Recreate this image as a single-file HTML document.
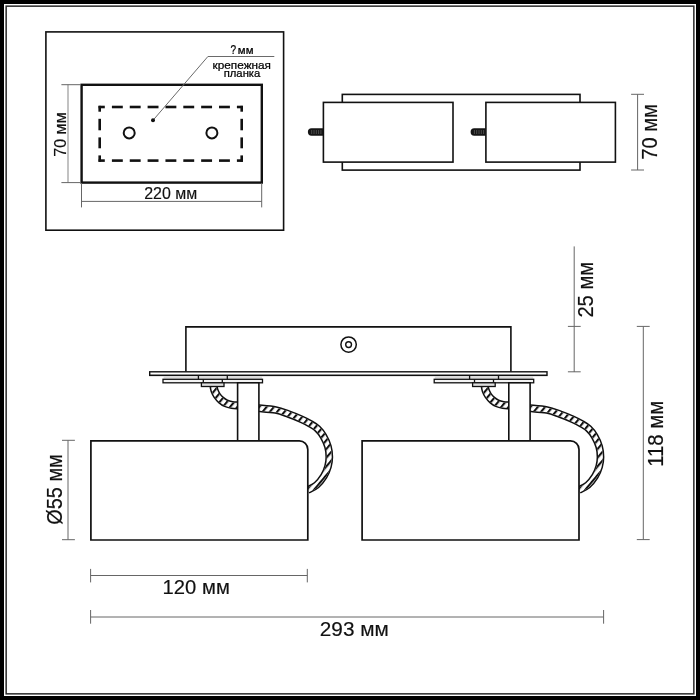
<!DOCTYPE html>
<html lang="ru">
<head>
<meta charset="utf-8">
<title>Схема светильника</title>
<style>
html,body{margin:0;padding:0;background:#fff;}
body{width:700px;height:700px;overflow:hidden;}
svg{display:block;filter:grayscale(1);font-family:'Liberation Sans', 'DejaVu Sans', sans-serif;}
</style>
</head>
<body>
<svg width="700" height="700" viewBox="0 0 700 700">
<rect x="0" y="0" width="700" height="700" fill="#fff"/>
<rect x="2" y="2" width="696" height="696" fill="none" stroke="#000" stroke-width="4"/>
<rect x="6.15" y="6.15" width="687.7" height="687.7" fill="none" stroke="#2a2a2a" stroke-width="1.5"/>
<rect x="45.90" y="31.90" width="237.70" height="198.30" fill="none" stroke="#111" stroke-width="1.6" />
<rect x="81.60" y="84.80" width="180.20" height="97.80" fill="none" stroke="#111" stroke-width="2.4" />
<line x1="98.55" y1="107.00" x2="104.80" y2="107.00" stroke="#111" stroke-width="2.6" />
<line x1="236.90" y1="107.00" x2="242.85" y2="107.00" stroke="#111" stroke-width="2.6" />
<line x1="111.90" y1="107.00" x2="122.80" y2="107.00" stroke="#111" stroke-width="2.6" />
<line x1="129.75" y1="107.00" x2="140.65" y2="107.00" stroke="#111" stroke-width="2.6" />
<line x1="147.60" y1="107.00" x2="158.50" y2="107.00" stroke="#111" stroke-width="2.6" />
<line x1="165.45" y1="107.00" x2="176.35" y2="107.00" stroke="#111" stroke-width="2.6" />
<line x1="183.30" y1="107.00" x2="194.20" y2="107.00" stroke="#111" stroke-width="2.6" />
<line x1="201.15" y1="107.00" x2="212.05" y2="107.00" stroke="#111" stroke-width="2.6" />
<line x1="219.00" y1="107.00" x2="229.90" y2="107.00" stroke="#111" stroke-width="2.6" />
<line x1="98.55" y1="160.60" x2="104.80" y2="160.60" stroke="#111" stroke-width="2.6" />
<line x1="236.90" y1="160.60" x2="242.85" y2="160.60" stroke="#111" stroke-width="2.6" />
<line x1="111.90" y1="160.60" x2="122.80" y2="160.60" stroke="#111" stroke-width="2.6" />
<line x1="129.75" y1="160.60" x2="140.65" y2="160.60" stroke="#111" stroke-width="2.6" />
<line x1="147.60" y1="160.60" x2="158.50" y2="160.60" stroke="#111" stroke-width="2.6" />
<line x1="165.45" y1="160.60" x2="176.35" y2="160.60" stroke="#111" stroke-width="2.6" />
<line x1="183.30" y1="160.60" x2="194.20" y2="160.60" stroke="#111" stroke-width="2.6" />
<line x1="201.15" y1="160.60" x2="212.05" y2="160.60" stroke="#111" stroke-width="2.6" />
<line x1="219.00" y1="160.60" x2="229.90" y2="160.60" stroke="#111" stroke-width="2.6" />
<line x1="99.70" y1="105.85" x2="99.70" y2="111.70" stroke="#111" stroke-width="2.6" />
<line x1="99.70" y1="155.40" x2="99.70" y2="161.75" stroke="#111" stroke-width="2.6" />
<line x1="99.70" y1="118.80" x2="99.70" y2="130.30" stroke="#111" stroke-width="2.6" />
<line x1="99.70" y1="137.40" x2="99.70" y2="148.30" stroke="#111" stroke-width="2.6" />
<line x1="241.70" y1="105.85" x2="241.70" y2="111.70" stroke="#111" stroke-width="2.6" />
<line x1="241.70" y1="155.40" x2="241.70" y2="161.75" stroke="#111" stroke-width="2.6" />
<line x1="241.70" y1="118.80" x2="241.70" y2="130.30" stroke="#111" stroke-width="2.6" />
<line x1="241.70" y1="137.40" x2="241.70" y2="148.30" stroke="#111" stroke-width="2.6" />
<circle cx="129.2" cy="132.9" r="5.5" fill="none" stroke="#111" stroke-width="2.0"/>
<circle cx="211.9" cy="132.9" r="5.5" fill="none" stroke="#111" stroke-width="2.0"/>
<polyline points="153,120.3 207.9,56.5 274.3,56.5" fill="none" stroke="#6a6a6a" stroke-width="1"/>
<circle cx="153" cy="120.3" r="2" fill="#111"/>
<line x1="68.00" y1="84.80" x2="68.00" y2="182.60" stroke="#999" stroke-width="1.2" />
<line x1="61.40" y1="84.70" x2="81.00" y2="84.70" stroke="#666" stroke-width="1" />
<line x1="61.40" y1="182.60" x2="81.00" y2="182.60" stroke="#666" stroke-width="1" />
<line x1="81.50" y1="183.00" x2="81.50" y2="207.40" stroke="#666" stroke-width="1" />
<line x1="261.70" y1="183.00" x2="261.70" y2="207.40" stroke="#666" stroke-width="1" />
<line x1="81.50" y1="201.40" x2="261.70" y2="201.40" stroke="#666" stroke-width="1" />
<text transform="translate(65.60 156.70) rotate(-90)" font-size="17.4" textLength="44.40" lengthAdjust="spacingAndGlyphs" fill="#111" stroke="#111" stroke-width="0.16">70 мм</text>
<text transform="translate(144.20 198.90)" font-size="16.4" textLength="53.00" lengthAdjust="spacingAndGlyphs" fill="#111" stroke="#111" stroke-width="0.16">220 мм</text>
<text transform="translate(230.6 53.7)" font-size="6" fill="#000" stroke="#000" stroke-width="0.24"><tspan font-size="12.2" textLength="5.6" lengthAdjust="spacingAndGlyphs">?</tspan> <tspan font-size="10.4" textLength="15.6" lengthAdjust="spacingAndGlyphs">мм</tspan></text>
<text transform="translate(212.60 69.00)" font-size="11.6" textLength="58.40" lengthAdjust="spacingAndGlyphs" fill="#000" stroke="#000" stroke-width="0.24">крепежная</text>
<text transform="translate(223.70 77.00)" font-size="11.6" textLength="36.60" lengthAdjust="spacingAndGlyphs" fill="#000" stroke="#000" stroke-width="0.24">планка</text>
<rect x="342.30" y="94.40" width="237.70" height="75.70" fill="none" stroke="#111" stroke-width="1.6" />
<rect x="323.40" y="102.40" width="129.60" height="59.70" fill="#fff" stroke="#111" stroke-width="1.6" />
<rect x="485.90" y="102.40" width="129.50" height="59.70" fill="#fff" stroke="#111" stroke-width="1.6" />
<path d="M323.10 128.3 H311.50 a3.6 3.7 0 0 0 0 7.4 H323.10 Z" fill="#151515"/>
<line x1="311.70" y1="130.00" x2="311.70" y2="134.00" stroke="#5a5a5a" stroke-width="0.8" />
<line x1="314.00" y1="130.00" x2="314.00" y2="134.00" stroke="#5a5a5a" stroke-width="0.8" />
<line x1="316.30" y1="130.00" x2="316.30" y2="134.00" stroke="#5a5a5a" stroke-width="0.8" />
<line x1="318.60" y1="130.00" x2="318.60" y2="134.00" stroke="#5a5a5a" stroke-width="0.8" />
<line x1="320.90" y1="130.00" x2="320.90" y2="134.00" stroke="#5a5a5a" stroke-width="0.8" />
<path d="M485.80 128.3 H474.20 a3.6 3.7 0 0 0 0 7.4 H485.80 Z" fill="#151515"/>
<line x1="474.40" y1="130.00" x2="474.40" y2="134.00" stroke="#5a5a5a" stroke-width="0.8" />
<line x1="476.70" y1="130.00" x2="476.70" y2="134.00" stroke="#5a5a5a" stroke-width="0.8" />
<line x1="479.00" y1="130.00" x2="479.00" y2="134.00" stroke="#5a5a5a" stroke-width="0.8" />
<line x1="481.30" y1="130.00" x2="481.30" y2="134.00" stroke="#5a5a5a" stroke-width="0.8" />
<line x1="483.60" y1="130.00" x2="483.60" y2="134.00" stroke="#5a5a5a" stroke-width="0.8" />
<line x1="637.60" y1="94.30" x2="637.60" y2="170.00" stroke="#666" stroke-width="1" />
<line x1="631.10" y1="94.30" x2="644.00" y2="94.30" stroke="#666" stroke-width="1" />
<line x1="631.10" y1="170.00" x2="644.00" y2="170.00" stroke="#666" stroke-width="1" />
<text transform="translate(657.00 159.80) rotate(-90)" font-size="22.4" textLength="55.60" lengthAdjust="spacingAndGlyphs" fill="#111" stroke="#111" stroke-width="0.18">70 мм</text>
<polyline points="185.9,371.8 185.9,326.9 510.9,326.9 510.9,371.8" fill="none" stroke="#111" stroke-width="1.6"/>
<rect x="149.70" y="371.80" width="397.30" height="3.60" fill="#fff" stroke="#111" stroke-width="1.4" />
<circle cx="348.6" cy="344.6" r="7.7" fill="none" stroke="#111" stroke-width="1.5"/>
<circle cx="348.6" cy="344.6" r="2.9" fill="none" stroke="#111" stroke-width="1.4"/>
<defs>
<pattern id="hatch" width="5.6" height="20" patternUnits="userSpaceOnUse" patternTransform="rotate(40)"><rect x="0" y="0" width="2.1" height="20" fill="#111"/></pattern>
</defs>
<g transform="translate(0 0)">
<path d="M213.50 386.30 C213.67 387.00 213.92 388.97 214.50 390.50 C215.08 392.03 215.92 393.92 217.00 395.50 C218.08 397.08 219.50 398.70 221.00 400.00 C222.50 401.30 224.17 402.47 226.00 403.30 C227.83 404.13 230.00 404.63 232.00 405.00 C234.00 405.37 237.00 405.42 238.00 405.50" fill="none" stroke="#111" stroke-width="8.3"/>
<path d="M213.50 386.30 C213.67 387.00 213.92 388.97 214.50 390.50 C215.08 392.03 215.92 393.92 217.00 395.50 C218.08 397.08 219.50 398.70 221.00 400.00 C222.50 401.30 224.17 402.47 226.00 403.30 C227.83 404.13 230.00 404.63 232.00 405.00 C234.00 405.37 237.00 405.42 238.00 405.50" fill="none" stroke="#fff" stroke-width="5.3"/>
<path d="M213.50 386.30 C213.67 387.00 213.92 388.97 214.50 390.50 C215.08 392.03 215.92 393.92 217.00 395.50 C218.08 397.08 219.50 398.70 221.00 400.00 C222.50 401.30 224.17 402.47 226.00 403.30 C227.83 404.13 230.00 404.63 232.00 405.00 C234.00 405.37 237.00 405.42 238.00 405.50" fill="none" stroke="url(#hatch)" stroke-width="5.3"/>
<path d="M258.50 408.20 C261.37 408.50 270.68 409.02 275.70 410.00 C280.72 410.98 284.32 412.57 288.60 414.10 C292.88 415.63 297.83 417.62 301.40 419.20 C304.97 420.78 307.33 422.03 310.00 423.60 C312.67 425.17 315.17 426.50 317.40 428.60 C319.63 430.70 321.63 433.18 323.40 436.20 C325.17 439.22 327.02 443.23 328.00 446.70 C328.98 450.17 329.30 453.70 329.30 457.00 C329.30 460.30 328.92 463.28 328.00 466.50 C327.08 469.72 325.72 473.20 323.80 476.30 C321.88 479.40 319.22 482.78 316.50 485.10 C313.78 487.42 309.00 489.35 307.50 490.20" fill="none" stroke="#111" stroke-width="7.8"/>
<path d="M258.50 408.20 C261.37 408.50 270.68 409.02 275.70 410.00 C280.72 410.98 284.32 412.57 288.60 414.10 C292.88 415.63 297.83 417.62 301.40 419.20 C304.97 420.78 307.33 422.03 310.00 423.60 C312.67 425.17 315.17 426.50 317.40 428.60 C319.63 430.70 321.63 433.18 323.40 436.20 C325.17 439.22 327.02 443.23 328.00 446.70 C328.98 450.17 329.30 453.70 329.30 457.00 C329.30 460.30 328.92 463.28 328.00 466.50 C327.08 469.72 325.72 473.20 323.80 476.30 C321.88 479.40 319.22 482.78 316.50 485.10 C313.78 487.42 309.00 489.35 307.50 490.20" fill="none" stroke="#fff" stroke-width="4.8"/>
<path d="M258.50 408.20 C261.37 408.50 270.68 409.02 275.70 410.00 C280.72 410.98 284.32 412.57 288.60 414.10 C292.88 415.63 297.83 417.62 301.40 419.20 C304.97 420.78 307.33 422.03 310.00 423.60 C312.67 425.17 315.17 426.50 317.40 428.60 C319.63 430.70 321.63 433.18 323.40 436.20 C325.17 439.22 327.02 443.23 328.00 446.70 C328.98 450.17 329.30 453.70 329.30 457.00 C329.30 460.30 328.92 463.28 328.00 466.50 C327.08 469.72 325.72 473.20 323.80 476.30 C321.88 479.40 319.22 482.78 316.50 485.10 C313.78 487.42 309.00 489.35 307.50 490.20" fill="none" stroke="url(#hatch)" stroke-width="4.8"/>
<rect x="163.6" y="376.2" width="98.3" height="2.6" fill="#dcdcdc"/>
<line x1="198.40" y1="375.40" x2="198.40" y2="379.30" stroke="#111" stroke-width="1.3" />
<line x1="227.30" y1="375.40" x2="227.30" y2="379.30" stroke="#111" stroke-width="1.3" />
<rect x="163.00" y="379.30" width="99.50" height="3.50" fill="#f4f4f4" stroke="#111" stroke-width="1.3" />
<line x1="203.30" y1="379.30" x2="203.30" y2="382.80" stroke="#111" stroke-width="1.3" />
<line x1="222.30" y1="379.30" x2="222.30" y2="382.80" stroke="#111" stroke-width="1.3" />
<rect x="201.40" y="382.80" width="22.60" height="3.70" fill="#dedede" stroke="#111" stroke-width="1.3" />
<rect x="237.60" y="382.80" width="21.30" height="58.70" fill="#fff" stroke="#111" stroke-width="1.6" />
<path d="M90.9 440.9 H299.3 A8.5 8.5 0 0 1 307.8 449.4 V540 H90.9 Z" fill="#fff" stroke="#111" stroke-width="1.7"/>
</g>
<g transform="translate(271.2 0)">
<path d="M213.50 386.30 C213.67 387.00 213.92 388.97 214.50 390.50 C215.08 392.03 215.92 393.92 217.00 395.50 C218.08 397.08 219.50 398.70 221.00 400.00 C222.50 401.30 224.17 402.47 226.00 403.30 C227.83 404.13 230.00 404.63 232.00 405.00 C234.00 405.37 237.00 405.42 238.00 405.50" fill="none" stroke="#111" stroke-width="8.3"/>
<path d="M213.50 386.30 C213.67 387.00 213.92 388.97 214.50 390.50 C215.08 392.03 215.92 393.92 217.00 395.50 C218.08 397.08 219.50 398.70 221.00 400.00 C222.50 401.30 224.17 402.47 226.00 403.30 C227.83 404.13 230.00 404.63 232.00 405.00 C234.00 405.37 237.00 405.42 238.00 405.50" fill="none" stroke="#fff" stroke-width="5.3"/>
<path d="M213.50 386.30 C213.67 387.00 213.92 388.97 214.50 390.50 C215.08 392.03 215.92 393.92 217.00 395.50 C218.08 397.08 219.50 398.70 221.00 400.00 C222.50 401.30 224.17 402.47 226.00 403.30 C227.83 404.13 230.00 404.63 232.00 405.00 C234.00 405.37 237.00 405.42 238.00 405.50" fill="none" stroke="url(#hatch)" stroke-width="5.3"/>
<path d="M258.50 408.20 C261.37 408.50 270.68 409.02 275.70 410.00 C280.72 410.98 284.32 412.57 288.60 414.10 C292.88 415.63 297.83 417.62 301.40 419.20 C304.97 420.78 307.33 422.03 310.00 423.60 C312.67 425.17 315.17 426.50 317.40 428.60 C319.63 430.70 321.63 433.18 323.40 436.20 C325.17 439.22 327.02 443.23 328.00 446.70 C328.98 450.17 329.30 453.70 329.30 457.00 C329.30 460.30 328.92 463.28 328.00 466.50 C327.08 469.72 325.72 473.20 323.80 476.30 C321.88 479.40 319.22 482.78 316.50 485.10 C313.78 487.42 309.00 489.35 307.50 490.20" fill="none" stroke="#111" stroke-width="7.8"/>
<path d="M258.50 408.20 C261.37 408.50 270.68 409.02 275.70 410.00 C280.72 410.98 284.32 412.57 288.60 414.10 C292.88 415.63 297.83 417.62 301.40 419.20 C304.97 420.78 307.33 422.03 310.00 423.60 C312.67 425.17 315.17 426.50 317.40 428.60 C319.63 430.70 321.63 433.18 323.40 436.20 C325.17 439.22 327.02 443.23 328.00 446.70 C328.98 450.17 329.30 453.70 329.30 457.00 C329.30 460.30 328.92 463.28 328.00 466.50 C327.08 469.72 325.72 473.20 323.80 476.30 C321.88 479.40 319.22 482.78 316.50 485.10 C313.78 487.42 309.00 489.35 307.50 490.20" fill="none" stroke="#fff" stroke-width="4.8"/>
<path d="M258.50 408.20 C261.37 408.50 270.68 409.02 275.70 410.00 C280.72 410.98 284.32 412.57 288.60 414.10 C292.88 415.63 297.83 417.62 301.40 419.20 C304.97 420.78 307.33 422.03 310.00 423.60 C312.67 425.17 315.17 426.50 317.40 428.60 C319.63 430.70 321.63 433.18 323.40 436.20 C325.17 439.22 327.02 443.23 328.00 446.70 C328.98 450.17 329.30 453.70 329.30 457.00 C329.30 460.30 328.92 463.28 328.00 466.50 C327.08 469.72 325.72 473.20 323.80 476.30 C321.88 479.40 319.22 482.78 316.50 485.10 C313.78 487.42 309.00 489.35 307.50 490.20" fill="none" stroke="url(#hatch)" stroke-width="4.8"/>
<rect x="163.6" y="376.2" width="98.3" height="2.6" fill="#dcdcdc"/>
<line x1="198.40" y1="375.40" x2="198.40" y2="379.30" stroke="#111" stroke-width="1.3" />
<line x1="227.30" y1="375.40" x2="227.30" y2="379.30" stroke="#111" stroke-width="1.3" />
<rect x="163.00" y="379.30" width="99.50" height="3.50" fill="#f4f4f4" stroke="#111" stroke-width="1.3" />
<line x1="203.30" y1="379.30" x2="203.30" y2="382.80" stroke="#111" stroke-width="1.3" />
<line x1="222.30" y1="379.30" x2="222.30" y2="382.80" stroke="#111" stroke-width="1.3" />
<rect x="201.40" y="382.80" width="22.60" height="3.70" fill="#dedede" stroke="#111" stroke-width="1.3" />
<rect x="237.60" y="382.80" width="21.30" height="58.70" fill="#fff" stroke="#111" stroke-width="1.6" />
<path d="M90.9 440.9 H299.3 A8.5 8.5 0 0 1 307.8 449.4 V540 H90.9 Z" fill="#fff" stroke="#111" stroke-width="1.7"/>
</g>
<line x1="149.70" y1="375.40" x2="547.00" y2="375.40" stroke="#111" stroke-width="1.4" />
<line x1="68.00" y1="440.30" x2="68.00" y2="539.70" stroke="#666" stroke-width="1" />
<line x1="62.00" y1="440.30" x2="74.90" y2="440.30" stroke="#666" stroke-width="1" />
<line x1="62.00" y1="539.70" x2="74.90" y2="539.70" stroke="#666" stroke-width="1" />
<text transform="translate(62.40 524.80) rotate(-90)" font-size="21.2" textLength="70.60" lengthAdjust="spacingAndGlyphs" fill="#111" stroke="#111" stroke-width="0.18">Ø55 мм</text>
<line x1="90.60" y1="575.50" x2="307.30" y2="575.50" stroke="#666" stroke-width="1" />
<line x1="90.60" y1="568.90" x2="90.60" y2="582.40" stroke="#666" stroke-width="1" />
<line x1="307.30" y1="568.90" x2="307.30" y2="582.40" stroke="#666" stroke-width="1" />
<text transform="translate(162.60 594.40)" font-size="20.4" textLength="67.20" lengthAdjust="spacingAndGlyphs" fill="#111" stroke="#111" stroke-width="0.18">120 мм</text>
<line x1="90.60" y1="617.00" x2="603.60" y2="617.00" stroke="#666" stroke-width="1" />
<line x1="90.60" y1="610.00" x2="90.60" y2="623.70" stroke="#666" stroke-width="1" />
<line x1="603.60" y1="610.00" x2="603.60" y2="623.70" stroke="#666" stroke-width="1" />
<text transform="translate(319.80 635.90)" font-size="20.4" textLength="69.00" lengthAdjust="spacingAndGlyphs" fill="#111" stroke="#111" stroke-width="0.18">293 мм</text>
<line x1="574.20" y1="246.40" x2="574.20" y2="372.00" stroke="#666" stroke-width="1" />
<line x1="567.90" y1="326.40" x2="580.70" y2="326.40" stroke="#666" stroke-width="1" />
<line x1="567.90" y1="371.80" x2="580.70" y2="371.80" stroke="#666" stroke-width="1" />
<text transform="translate(592.80 317.60) rotate(-90)" font-size="21.8" textLength="55.80" lengthAdjust="spacingAndGlyphs" fill="#111" stroke="#111" stroke-width="0.18">25 мм</text>
<line x1="643.30" y1="326.40" x2="643.30" y2="539.60" stroke="#666" stroke-width="1" />
<line x1="636.80" y1="326.40" x2="649.70" y2="326.40" stroke="#666" stroke-width="1" />
<line x1="636.80" y1="539.60" x2="649.70" y2="539.60" stroke="#666" stroke-width="1" />
<text transform="translate(663.00 466.80) rotate(-90)" font-size="21.8" textLength="66.00" lengthAdjust="spacingAndGlyphs" fill="#111" stroke="#111" stroke-width="0.18">118 мм</text>
</svg>
</body>
</html>
